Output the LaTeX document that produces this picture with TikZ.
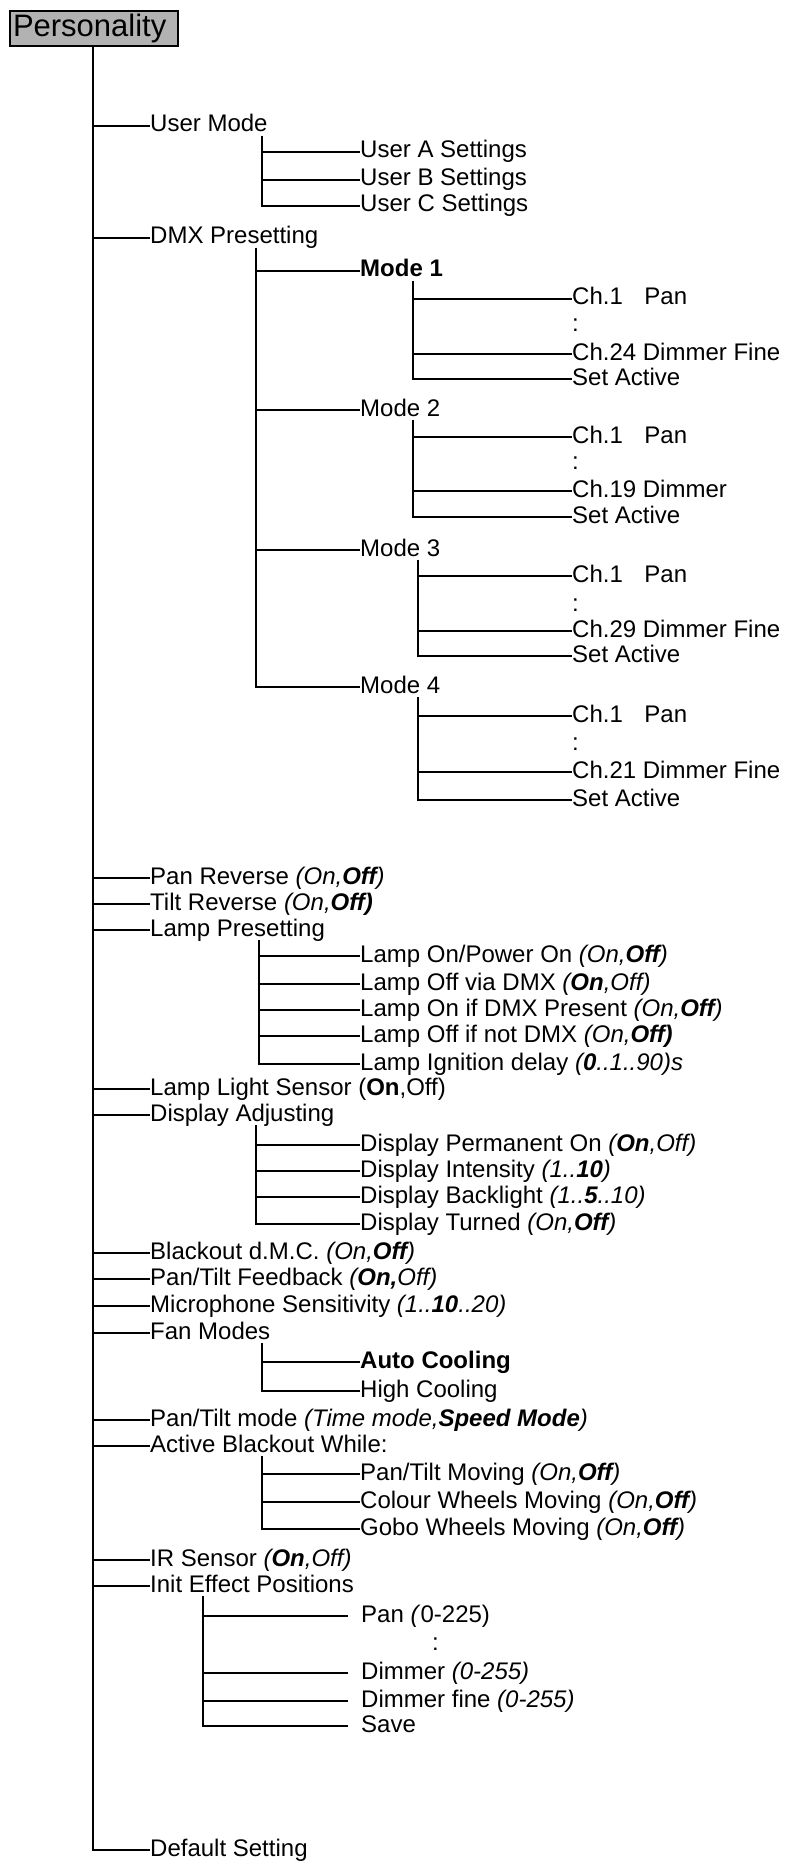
\documentclass[tikz,border=0pt]{standalone}
\usepackage{fontspec}
\setmainfont{Liberation Sans}
\usetikzlibrary{positioning}

\begin{document}
\begin{tikzpicture}[
    x=1pt, y=-1pt,
    entry/.style={anchor=west, inner sep=0pt, text height=17pt, text depth=5pt, font=\fontsize{24}{28}\selectfont},
    head/.style={draw, fill=black!30, line width=1.6pt, text width=162pt, inner xsep=3pt, inner ysep=0pt, minimum height=35pt, align=left, font=\fontsize{31}{34}\selectfont},
    line/.style={draw, line width=2.5pt},
    gap/.style={line, shorten >=13pt}
]
\useasboundingbox (0,0) rectangle (785,1867);

\node [head] (pers) at (94,28.5) {Personality};

% first level
\node [entry] (um) at (150,126) {User Mode};
\node [entry] (dmx) at (150,238) {DMX Presetting};
\node [entry] (panrev) at (150,878) {Pan Reverse \textit{(On,\textbf{Off})}};
\node [entry] (tiltrev) at (150,904) {Tilt Reverse \textit{(On,\textbf{Off)}}};
\node [entry] (lamp) at (150,930) {Lamp Presetting};
\node [entry] (lls) at (150,1089) {Lamp Light Sensor (\textbf{On},Off)};
\node [entry] (disp) at (150,1115) {Display Adjusting};
\node [entry] (blk) at (150,1253) {Blackout d.M.C. \textit{(On,\textbf{Off})}};
\node [entry] (ptfb) at (150,1279) {Pan/Tilt Feedback \textit{(\textbf{On,}Off)}};
\node [entry] (mic) at (150,1306) {Microphone Sensitivity \textit{(1..\textbf{10}..20)}};
\node [entry] (fan) at (150,1333) {Fan Modes};
\node [entry] (ptmode) at (150,1420) {Pan/Tilt mode \textit{(Time mode,\textbf{Speed Mode})}};
\node [entry] (actbo) at (150,1446) {Active Blackout While:};
\node [entry] (ir) at (150,1560) {IR Sensor \textit{(\textbf{On},Off)}};
\node [entry] (init) at (150,1586) {Init Effect Positions};
\node [entry] (dflt) at (150,1850) {Default Setting};

\coordinate (t0) at (93,46);
\foreach \n in {um,dmx,panrev,tiltrev,lamp,lls,disp,blk,ptfb,mic,fan,ptmode,actbo,ir,init,dflt}
    \draw [line] (t0) |- (\n.west);

% user mode
\node [entry] (ua) at (360,152) {User A Settings};
\node [entry] (ub) at (360,180) {User B Settings};
\node [entry] (uc) at (360,206) {User C Settings};
\coordinate (tum) at (262,136);
\foreach \n in {ua,ub,uc}
    \draw [line] (tum) |- (\n.west);

% dmx modes
\node [entry] (m1) at (360,271) {\textbf{Mode 1}};
\node [entry] (m2) at (360,410) {Mode 2};
\node [entry] (m3) at (360,550) {Mode 3};
\node [entry] (m4) at (360,687) {Mode 4};
\coordinate (tdmx) at (256,248);
\foreach \n in {m1,m2,m3,m4}
    \draw [line] (tdmx) |- (\n.west);

\node [entry] (c1a) at (572,299) {Ch.1\hspace{0.9em}Pan};
\node [entry] (c1d) at (572,325) {:};
\node [entry] (c1b) at (572,354) {Ch.24 Dimmer Fine};
\node [entry] (c1s) at (572,379) {Set Active};
\coordinate (tm1) at (413,281);
\foreach \n in {c1a,c1b,c1s}
    \draw [line] (tm1) |- (\n.west);

\node [entry] (c2a) at (572,437) {Ch.1\hspace{0.9em}Pan};
\node [entry] (c2d) at (572,463) {:};
\node [entry] (c2b) at (572,491) {Ch.19 Dimmer};
\node [entry] (c2s) at (572,517) {Set Active};
\coordinate (tm2) at (413,420);
\foreach \n in {c2a,c2b,c2s}
    \draw [line] (tm2) |- (\n.west);

\node [entry] (c3a) at (572,576) {Ch.1\hspace{0.9em}Pan};
\node [entry] (c3d) at (572,605) {:};
\node [entry] (c3b) at (572,631) {Ch.29 Dimmer Fine};
\node [entry] (c3s) at (572,656) {Set Active};
\coordinate (tm3) at (418,560);
\foreach \n in {c3a,c3b,c3s}
    \draw [line] (tm3) |- (\n.west);

\node [entry] (c4a) at (572,716) {Ch.1\hspace{0.9em}Pan};
\node [entry] (c4d) at (572,744) {:};
\node [entry] (c4b) at (572,772) {Ch.21 Dimmer Fine};
\node [entry] (c4s) at (572,800) {Set Active};
\coordinate (tm4) at (418,697);
\foreach \n in {c4a,c4b,c4s}
    \draw [line] (tm4) |- (\n.west);

% lamp presetting
\node [entry] (l1) at (360,956) {Lamp On/Power On \textit{(On,\textbf{Off})}};
\node [entry] (l2) at (360,984) {Lamp Off via DMX \textit{(\textbf{On},Off)}};
\node [entry] (l3) at (360,1010) {Lamp On if DMX Present \textit{(On,\textbf{Off})}};
\node [entry] (l4) at (360,1036) {Lamp Off if not DMX \textit{(On,\textbf{Off)}}};
\node [entry] (l5) at (360,1064) {Lamp Ignition delay \textit{(\textbf{0}..1..90)s}};
\coordinate (tlamp) at (259,940);
\foreach \n in {l1,l2,l3,l4,l5}
    \draw [line] (tlamp) |- (\n.west);

% display
\node [entry] (d1) at (360,1145) {Display Permanent On \textit{(\textbf{On},Off)}};
\node [entry] (d2) at (360,1171) {Display Intensity \textit{(1..\textbf{10})}};
\node [entry] (d3) at (360,1197) {Display Backlight \textit{(1..\textbf{5}..10)}};
\node [entry] (d4) at (360,1224) {Display Turned \textit{(On,\textbf{Off})}};
\coordinate (tdisp) at (256,1125);
\foreach \n in {d1,d2,d3,d4}
    \draw [line] (tdisp) |- (\n.west);

% fan
\node [entry] (f1) at (360,1362) {\textbf{Auto Cooling}};
\node [entry] (f2) at (360,1391) {High Cooling};
\coordinate (tfan) at (262,1343);
\foreach \n in {f1,f2}
    \draw [line] (tfan) |- (\n.west);

% blackout
\node [entry] (a1) at (360,1474) {Pan/Tilt Moving \textit{(On,\textbf{Off})}};
\node [entry] (a2) at (360,1502) {Colour Wheels Moving \textit{(On,\textbf{Off})}};
\node [entry] (a3) at (360,1529) {Gobo Wheels Moving \textit{(On,\textbf{Off})}};
\coordinate (tact) at (262,1456);
\foreach \n in {a1,a2,a3}
    \draw [line] (tact) |- (\n.west);

% init positions
\node [entry] (i1) at (361,1616) {Pan \textit{(}0-225)};
\node [entry] (id) at (432,1644) {:};
\node [entry] (i2) at (361,1673) {Dimmer \textit{(0-255)}};
\node [entry] (i3) at (361,1701) {Dimmer fine \textit{(0-255)}};
\node [entry] (i4) at (361,1726) {Save};
\coordinate (tinit) at (203,1596);
\foreach \n in {i1,i2,i3,i4}
    \draw [gap] (tinit) |- (\n.west);
\end{tikzpicture}
\end{document}
